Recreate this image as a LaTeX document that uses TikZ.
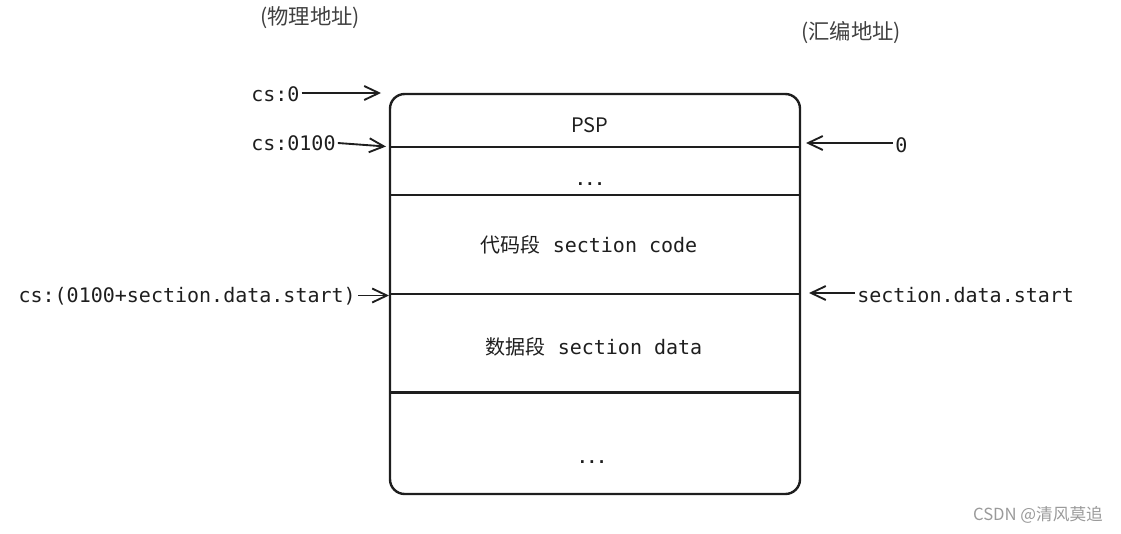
\documentclass[tikz,border=0pt]{standalone}
\usepackage{fontspec}
\setmainfont{Noto Sans CJK SC}
\newfontfamily\cjk{Noto Sans CJK SC}
\newfontfamily\mono{DejaVu Sans Mono}
\usetikzlibrary{arrows.meta}
\definecolor{ink}{HTML}{1E1E1E}
\definecolor{wm}{HTML}{9A9A9A}
\tikzset{
  mtxt/.style={font=\mono\fontsize{15}{18}\selectfont, text=ink, inner sep=1.5pt},
  dtxt/.style={font=\mono\bfseries\fontsize{12}{14}\selectfont, text=ink, inner sep=1pt},
  ctxt/.style={font=\cjk\fontsize{15}{18}\selectfont, text=ink, inner sep=1pt},
  htxt/.style={font=\cjk\fontsize{16}{19}\selectfont, text=ink!85, inner sep=1pt},
  arr/.style={draw=ink, line width=1.4pt, -{Straight Barb[length=11pt,width=10.5pt,line width=1.4pt]}},
  sepline/.style={draw=ink, line width=1.6pt},
  membox/.style={draw=ink, line width=1.8pt, rounded corners=11pt, minimum width=307.5pt, minimum height=300pt, inner sep=0pt}
}
\begin{document}
\begin{tikzpicture}[x=0.75pt,y=-0.75pt]
\useasboundingbox (0,0) rectangle (1121,533);
% memory box
\node[membox] (mem) at (595,294) {};
\coordinate (l1) at (390,147); \coordinate (r1) at (800,147);
\coordinate (l2) at (390,195); \coordinate (r2) at (800,195);
\coordinate (l3) at (390,294); \coordinate (r3) at (800,294);
\coordinate (l4) at (390,392.5); \coordinate (r4) at (800,392.5);
\draw[sepline] (l1) -- (r1);
\draw[sepline] (l2) -- (r2);
\draw[sepline] (l3) -- (r3);
\draw[sepline] (l4) -- (r4);
% contents
\node[ctxt] (psp) at (590,125) {PSP};
\node[dtxt] (dots1) at (590,184) {...};
\node[mtxt] (code) at (589,245) {{\cjk 代码段} section code};
\node[mtxt] (data) at (594,347) {{\cjk 数据段} section data};
\node[dtxt] (dots2) at (592,462) {...};
% headers
\node[htxt] (phys) at (310,18) {(物理地址)};
\node[htxt] (asm) at (851,33) {(汇编地址)};
% left labels
\node[mtxt, anchor=west] (cs0) at (249,94) {cs:0};
\coordinate (t0) at (381,93);
\draw[arr] (cs0.east |- t0) -- (t0);
\node[mtxt, anchor=west] (cs100) at (249,143) {cs:0100};
\coordinate (t100) at (386,146.5);
\draw[arr] (cs100.east) -- (t100);
\node[mtxt, anchor=east] (csd) at (358,296.5) {cs:(0100+section.data.start)};
\coordinate (td) at (389,295.5);
\draw[arr] (csd.east |- td) -- (td);
% right labels
\node[mtxt, anchor=west] (zero) at (893,145) {0};
\coordinate (tz) at (806,143);
\draw[arr] (zero.west |- tz) -- (tz);
\node[mtxt, anchor=west] (sds) at (855,295) {section.data.start};
\coordinate (ts) at (809,293);
\draw[arr] (sds.west |- ts) -- (ts);
% watermark
\node[font=\cjk\fontsize{12.5}{15}\selectfont, text=wm] (wmk) at (1038,515) {CSDN @清风莫追};
\end{tikzpicture}
\end{document}
